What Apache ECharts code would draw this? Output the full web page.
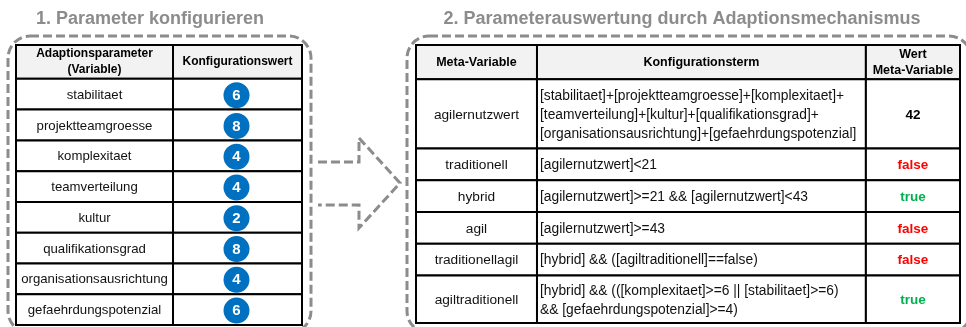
<!DOCTYPE html>
<html><head><meta charset="utf-8">
<script src="https://cdn.jsdelivr.net/npm/echarts@6/dist/echarts.min.js"></script>
<style>html,body{margin:0;padding:0;background:#fff}#c{width:966px;height:327px}</style>
</head><body><div id="c"></div>
<script>
// ---------- data ----------
const titleLeft = '1. Parameter konfigurieren';
const titleRight = '2. Parameterauswertung durch Adaptionsmechanismus';
const leftHeaders = ['Adaptionsparameter\n(Variable)', 'Konfigurationswert'];
const leftParams = ['stabilitaet', 'projektteamgroesse', 'komplexitaet', 'teamverteilung', 'kultur', 'qualifikationsgrad', 'organisationsausrichtung', 'gefaehrdungspotenzial'];
const leftValues = [6, 8, 4, 4, 2, 8, 4, 6];
const rightHeaders = ['Meta-Variable', 'Konfigurationsterm', 'Wert\nMeta-Variable'];
const rightVars = ['agilernutzwert', 'traditionell', 'hybrid', 'agil', 'traditionellagil', 'agiltraditionell'];
const rightTerms = [
  '[stabilitaet]+[projektteamgroesse]+[komplexitaet]+\n[teamverteilung]+[kultur]+[qualifikationsgrad]+\n[organisationsausrichtung]+[gefaehrdungspotenzial]',
  '[agilernutzwert]<21',
  '[agilernutzwert]>=21 && [agilernutzwert]<43',
  '[agilernutzwert]>=43',
  '[hybrid] && ([agiltraditionell]==false)',
  '[hybrid] && (([komplexitaet]>=6 || [stabilitaet]>=6)\n&& [gefaehrdungspotenzial]>=4)'
];
const rightValues = ['42', 'false', 'true', 'false', 'false', 'true'];

// ---------- layout / style ----------
const FONT = '"Liberation Sans", Arial, Helvetica, sans-serif';
const GRAY = '#8c8c8c';
const L_HEADER_UNITS = 1.1;
const R_HEADER_UNITS = 2.05;
const R_ROW_UNITS = {1: 1.9, 2: 2.85, 3: 4.15};
const L_SPLIT = [0, 0.549, 1];
const R_SPLIT = [0, 0.2224, 0.827, 1];
const valueColor = v => v === 'true' ? '#00B050' : (v === 'false' ? '#FF0000' : '#000');

// build row extents (in axis units) from data
const leftData = [[0, 0, L_HEADER_UNITS, -1]];
leftParams.forEach((p, i) => leftData.push([0, L_HEADER_UNITS + i, L_HEADER_UNITS + i + 1, i]));
const leftMax = L_HEADER_UNITS + leftParams.length;

const rightData = [[0, 0, R_HEADER_UNITS, -1]];
let acc = R_HEADER_UNITS;
rightTerms.forEach((t, i) => {
  const u = R_ROW_UNITS[t.split('\n').length];
  rightData.push([0, acc, acc + u, i]);
  acc += u;
});
const rightMax = acc;

function cellRect(x0, x1, y0, y1, header) {
  return {type: 'rect', shape: {x: x0, y: y0, width: x1 - x0, height: y1 - y0},
    style: {fill: header ? '#F2F2F2' : '#fff', stroke: '#000', lineWidth: 2}};
}
function txt(x, y, text, size, weight, color, align, lh) {
  return {type: 'text', x: x, y: y, style: {text: text, fontSize: size, fontWeight: weight, fontFamily: FONT,
    fill: color, align: align, verticalAlign: 'middle', lineHeight: lh}};
}

function renderLeft(params, api) {
  const cs = params.coordSys;
  const y0 = api.coord([0, api.value(1)])[1];
  const y1 = api.coord([0, api.value(2)])[1];
  const idx = api.value(3);
  const header = idx < 0;
  const xs = L_SPLIT.map(f => cs.x + cs.width * f);
  const ch = [];
  for (let c = 0; c < 2; c++) ch.push(cellRect(xs[c], xs[c + 1], y0, y1, header));
  const cy = (y0 + y1) / 2;
  if (header) {
    ch.push(txt((xs[0] + xs[1]) / 2, cy, leftHeaders[0], 12, 'bold', '#000', 'center', 16));
    ch.push(txt((xs[1] + xs[2]) / 2, cy, leftHeaders[1], 12, 'bold', '#000', 'center', 16));
  } else {
    ch.push(txt((xs[0] + xs[1]) / 2, cy + 1, leftParams[idx], 13.2, 'normal', '#111', 'center', 16));
    const cx = (xs[1] + xs[2]) / 2 - 1;
    ch.push({type: 'circle', shape: {cx: cx, cy: cy + 1, r: 13}, style: {fill: '#0070C0'}});
    ch.push(txt(cx, cy + 1.5, String(leftValues[idx]), 15, 'bold', '#fff', 'center', 16));
  }
  return {type: 'group', children: ch};
}

function renderRight(params, api) {
  const cs = params.coordSys;
  const y0 = api.coord([0, api.value(1)])[1];
  const y1 = api.coord([0, api.value(2)])[1];
  const idx = api.value(3);
  const header = idx < 0;
  const xs = R_SPLIT.map(f => cs.x + cs.width * f);
  const ch = [];
  for (let c = 0; c < 3; c++) ch.push(cellRect(xs[c], xs[c + 1], y0, y1, header));
  const cy = (y0 + y1) / 2;
  if (header) {
    ch.push(txt((xs[0] + xs[1]) / 2, cy, rightHeaders[0], 12.5, 'bold', '#000', 'center', 16));
    ch.push(txt((xs[1] + xs[2]) / 2, cy, rightHeaders[1], 12.5, 'bold', '#000', 'center', 16));
    ch.push(txt((xs[2] + xs[3]) / 2, cy, rightHeaders[2], 12.5, 'bold', '#000', 'center', 16));
  } else {
    ch.push(txt((xs[0] + xs[1]) / 2, cy + 1, rightVars[idx], 13.7, 'normal', '#111', 'center', 19));
    ch.push(txt(xs[1] + 3, cy + 1, rightTerms[idx], 13.8, 'normal', '#111', 'left', 19));
    ch.push(txt((xs[2] + xs[3]) / 2, cy + 1, rightValues[idx], 13.5, 'bold', valueColor(rightValues[idx]), 'center', 19));
  }
  return {type: 'group', children: ch};
}

const chart = echarts.init(document.getElementById('c'), null, {renderer: 'canvas'});
const hiddenAxis = {show: false, axisLine: {show: false}, axisTick: {show: false}, axisLabel: {show: false}, splitLine: {show: false}};
chart.setOption({
  animation: false,
  backgroundColor: '#fff',
  grid: [
    {left: 16, top: 45, width: 286, height: 280},
    {left: 416, top: 45, width: 544, height: 278}
  ],
  xAxis: [
    Object.assign({type: 'value', gridIndex: 0, min: 0, max: 1}, hiddenAxis),
    Object.assign({type: 'value', gridIndex: 1, min: 0, max: 1}, hiddenAxis)
  ],
  yAxis: [
    Object.assign({type: 'value', gridIndex: 0, min: 0, max: leftMax, inverse: true}, hiddenAxis),
    Object.assign({type: 'value', gridIndex: 1, min: 0, max: rightMax, inverse: true}, hiddenAxis)
  ],
  series: [
    {type: 'custom', xAxisIndex: 0, yAxisIndex: 0, clip: false, renderItem: renderLeft, data: leftData,
      encode: {x: 0, y: [1, 2]}},
    {type: 'custom', xAxisIndex: 1, yAxisIndex: 1, clip: false, renderItem: renderRight, data: rightData,
      encode: {x: 0, y: [1, 2]}}
  ],
  graphic: [
    {type: 'text', x: 150, y: 19, style: {text: titleLeft, fontSize: 18, fontWeight: 'bold', fontFamily: FONT, fill: GRAY, align: 'center', verticalAlign: 'middle'}},
    {type: 'text', x: 682, y: 19, style: {text: titleRight, fontSize: 18, fontWeight: 'bold', fontFamily: FONT, fill: GRAY, align: 'center', verticalAlign: 'middle'}},
    {type: 'rect', shape: {x: 8, y: 36, width: 303, height: 297, r: 22}, style: {fill: 'none', stroke: GRAY, lineWidth: 3, lineDash: [9, 4]}, z: -1},
    {type: 'rect', shape: {x: 407, y: 36, width: 564, height: 297, r: 22}, style: {fill: 'none', stroke: GRAY, lineWidth: 3, lineDash: [9, 4]}, z: -1},
    {type: 'polyline', shape: {points: [[318, 162], [359, 162], [359, 138], [400, 183], [359, 228], [359, 205], [318, 205]]},
      style: {fill: 'none', stroke: GRAY, lineWidth: 3, lineDash: [9, 4]}}
  ]
});
</script>
</body></html>
